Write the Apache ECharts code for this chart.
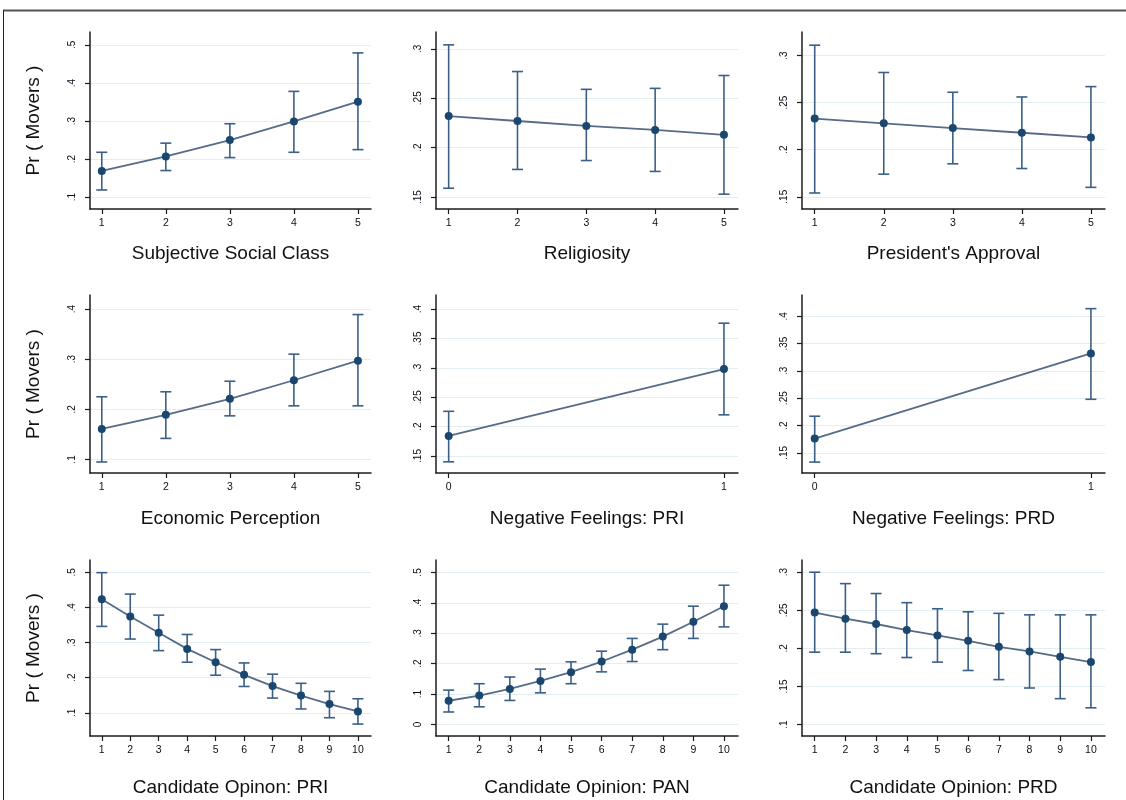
<!DOCTYPE html>
<html>
<head>
<meta charset="utf-8">
<script src="https://cdn.jsdelivr.net/npm/echarts@6/dist/echarts.min.js"></script>
<style>
  html, body { margin: 0; padding: 0; background: #fff; }
  #chart { width: 1126px; height: 800px; }
</style>
</head>
<body>
<div id="chart"></div>
<script>
// Predicted probability of being a mover, with 95% intervals, by respondent attribute.

// Subjective Social Class
const xSocialClass = [1, 2, 3, 4, 5];
const prSocialClass = [0.169, 0.207, 0.250, 0.299, 0.351];
const loSocialClass = [0.119, 0.170, 0.204, 0.218, 0.225];
const hiSocialClass = [0.218, 0.242, 0.293, 0.378, 0.479];

// Religiosity
const xReligiosity = [1, 2, 3, 4, 5];
const prReligiosity = [0.232, 0.227, 0.222, 0.218, 0.213];
const loReligiosity = [0.159, 0.178, 0.187, 0.176, 0.153];
const hiReligiosity = [0.304, 0.277, 0.259, 0.260, 0.273];

// President's Approval
const xApproval = [1, 2, 3, 4, 5];
const prApproval = [0.233, 0.228, 0.223, 0.218, 0.213];
const loApproval = [0.154, 0.174, 0.185, 0.180, 0.160];
const hiApproval = [0.311, 0.282, 0.261, 0.256, 0.267];

// Economic Perception
const xEconomy = [1, 2, 3, 4, 5];
const prEconomy = [0.161, 0.189, 0.221, 0.258, 0.297];
const loEconomy = [0.095, 0.142, 0.187, 0.207, 0.207];
const hiEconomy = [0.225, 0.235, 0.256, 0.310, 0.389];

// Negative Feelings: PRI
const xNegPRI = [0, 1];
const prNegPRI = [0.184, 0.298];
const loNegPRI = [0.140, 0.220];
const hiNegPRI = [0.226, 0.376];

// Negative Feelings: PRD
const xNegPRD = [0, 1];
const prNegPRD = [0.176, 0.332];
const loNegPRD = [0.133, 0.248];
const hiNegPRD = [0.217, 0.414];

// Candidate Opinon: PRI
const xOpinionPRI = [1, 2, 3, 4, 5, 6, 7, 8, 9, 10];
const prOpinionPRI = [0.423, 0.374, 0.328, 0.282, 0.244, 0.208, 0.176, 0.149, 0.125, 0.104];
const loOpinionPRI = [0.346, 0.310, 0.277, 0.244, 0.207, 0.175, 0.142, 0.111, 0.086, 0.068];
const hiOpinionPRI = [0.499, 0.438, 0.378, 0.323, 0.280, 0.242, 0.210, 0.184, 0.161, 0.140];

// Candidate Opinion: PAN
const xOpinionPAN = [1, 2, 3, 4, 5, 6, 7, 8, 9, 10];
const prOpinionPAN = [0.078, 0.095, 0.117, 0.143, 0.172, 0.207, 0.246, 0.289, 0.338, 0.389];
const loOpinionPAN = [0.041, 0.058, 0.079, 0.104, 0.134, 0.173, 0.207, 0.246, 0.283, 0.321];
const hiOpinionPAN = [0.113, 0.134, 0.156, 0.182, 0.206, 0.241, 0.283, 0.330, 0.389, 0.458];

// Candidate Opinion: PRD
const xOpinionPRD = [1, 2, 3, 4, 5, 6, 7, 8, 9, 10];
const prOpinionPRD = [0.247, 0.239, 0.232, 0.224, 0.217, 0.210, 0.202, 0.196, 0.189, 0.182];
const loOpinionPRD = [0.195, 0.195, 0.193, 0.188, 0.182, 0.171, 0.159, 0.148, 0.134, 0.122];
const hiOpinionPRD = [0.300, 0.285, 0.272, 0.260, 0.252, 0.248, 0.246, 0.244, 0.244, 0.244];

// Y tick labels per panel
const yTicksSocialClass = [0.1, 0.2, 0.3, 0.4, 0.5];
const yTicksReligiosity = [0.15, 0.2, 0.25, 0.3];
const yTicksApproval = [0.15, 0.2, 0.25, 0.3];
const yTicksEconomy = [0.1, 0.2, 0.3, 0.4];
const yTicksNegPRI = [0.15, 0.2, 0.25, 0.3, 0.35, 0.4];
const yTicksNegPRD = [0.15, 0.2, 0.25, 0.3, 0.35, 0.4];
const yTicksOpinionPRI = [0.1, 0.2, 0.3, 0.4, 0.5];
const yTicksOpinionPAN = [0, 0.1, 0.2, 0.3, 0.4, 0.5];
const yTicksOpinionPRD = [0.1, 0.15, 0.2, 0.25, 0.3];

const yTitle = 'Pr ( Movers )';

const panels = [
  { title: 'Subjective Social Class', x: xSocialClass, pr: prSocialClass, lo: loSocialClass, hi: hiSocialClass, yTicks: yTicksSocialClass, yRange: [0.069, 0.534] },
  { title: 'Religiosity', x: xReligiosity, pr: prReligiosity, lo: loReligiosity, hi: hiReligiosity, yTicks: yTicksReligiosity, yRange: [0.138, 0.317] },
  { title: "President's Approval", x: xApproval, pr: prApproval, lo: loApproval, hi: hiApproval, yTicks: yTicksApproval, yRange: [0.137, 0.325] },
  { title: 'Economic Perception', x: xEconomy, pr: prEconomy, lo: loEconomy, hi: hiEconomy, yTicks: yTicksEconomy, yRange: [0.073, 0.428] },
  { title: 'Negative Feelings: PRI', x: xNegPRI, pr: prNegPRI, lo: loNegPRI, hi: hiNegPRI, yTicks: yTicksNegPRI, yRange: [0.121, 0.424] },
  { title: 'Negative Feelings: PRD', x: xNegPRD, pr: prNegPRD, lo: loNegPRD, hi: hiNegPRD, yTicks: yTicksNegPRD, yRange: [0.113, 0.439] },
  { title: 'Candidate Opinon: PRI', x: xOpinionPRI, pr: prOpinionPRI, lo: loOpinionPRI, hi: hiOpinionPRI, yTicks: yTicksOpinionPRI, yRange: [0.034, 0.535] },
  { title: 'Candidate Opinion: PAN', x: xOpinionPAN, pr: prOpinionPAN, lo: loOpinionPAN, hi: hiOpinionPAN, yTicks: yTicksOpinionPAN, yRange: [-0.038, 0.541] },
  { title: 'Candidate Opinion: PRD', x: xOpinionPRD, pr: prOpinionPRD, lo: loOpinionPRD, hi: hiOpinionPRD, yTicks: yTicksOpinionPRD, yRange: [0.085, 0.316] }
];

// Layout of the 3x3 panel grid
const colLeft = [90, 436, 802];
const colWidth = [281, 302, 303];
const rowTop = [32, 295, 560];
const rowHeight = [177, 178, 176];
const xNameGap = [35, 36, 42];

const FONT = "'Liberation Sans', Arial, Helvetica, sans-serif";
const NAVY = '#1a476f';
const BAR = '#3b5f86';
const LINE = '#566b85';
const AXIS = '#1c1c1c';
const GRIDLINE = '#e4edf1';

function stataNum(v) {
  if (Math.abs(v) < 1e-9) return '0';
  const s = String(parseFloat(v.toFixed(3)));
  return s.replace(/^0\./, '.').replace(/^-0\./, '-.');
}

const grid = [], xAxis = [], yAxis = [], series = [];

panels.forEach((p, i) => {
  const row = Math.floor(i / 3), col = i % 3;
  grid.push({ left: colLeft[col], top: rowTop[row], width: colWidth[col], height: rowHeight[row], containLabel: false });

  const xMin = p.x[0], xMax = p.x[p.x.length - 1];
  const span = xMax - xMin;
  xAxis.push({
    gridIndex: i, type: 'value',
    min: xMin - 0.046 * span, max: xMax + 0.051 * span,
    name: p.title, nameLocation: 'middle', nameGap: xNameGap[row],
    nameTextStyle: { fontFamily: FONT, fontSize: 19, color: '#111' },
    axisLine: { onZero: false, lineStyle: { color: AXIS, width: 1.5 } },
    axisTick: { length: 5, customValues: p.x, lineStyle: { color: AXIS, width: 1.2 } },
    axisLabel: { customValues: p.x, margin: 9, fontFamily: FONT, fontSize: 10.5, color: '#0d0d1a' },
    splitLine: { show: false }
  });

  yAxis.push({
    gridIndex: i, type: 'value',
    min: p.yRange[0], max: p.yRange[1],
    name: col === 0 ? yTitle : '', nameLocation: 'middle', nameGap: 47, nameRotate: 90,
    nameTextStyle: { fontFamily: FONT, fontSize: 19, color: '#111' },
    axisLine: { show: true, onZero: false, lineStyle: { color: AXIS, width: 1.5 } },
    axisTick: { show: true, length: 5, customValues: p.yTicks, lineStyle: { color: AXIS, width: 1.2 } },
    axisLabel: { customValues: p.yTicks, rotate: 90, margin: 13, fontFamily: FONT, fontSize: 10, color: '#0d0d1a', formatter: stataNum },
    splitLine: { show: true, lineStyle: { color: GRIDLINE, width: 1 } }
  });

  // 95% interval caps
  series.push({
    type: 'custom', xAxisIndex: i, yAxisIndex: i, z: 2,
    encode: { x: 0, y: [1, 2] },
    data: p.x.map((x, k) => [x, p.lo[k], p.hi[k]]),
    renderItem: (params, api) => {
      const x = api.value(0);
      const top = api.coord([x, api.value(2)]);
      const bot = api.coord([x, api.value(1)]);
      const w = 5.5;
      const st = { stroke: BAR, lineWidth: 1.6 };
      return {
        type: 'group',
        children: [
          { type: 'line', shape: { x1: top[0], y1: top[1], x2: bot[0], y2: bot[1] }, style: st },
          { type: 'line', shape: { x1: top[0] - w, y1: top[1], x2: top[0] + w, y2: top[1] }, style: st },
          { type: 'line', shape: { x1: bot[0] - w, y1: bot[1], x2: bot[0] + w, y2: bot[1] }, style: st }
        ]
      };
    }
  });

  // Point estimates joined by a line
  series.push({
    type: 'line', xAxisIndex: i, yAxisIndex: i, z: 3,
    data: p.x.map((x, k) => [x, p.pr[k]]),
    symbol: 'circle', symbolSize: 8,
    itemStyle: { color: NAVY },
    lineStyle: { color: LINE, width: 1.8 },
    animation: false
  });
});

const chart = echarts.init(document.getElementById('chart'), null, { renderer: 'canvas' });
chart.setOption({
  backgroundColor: '#ffffff',
  animation: false,
  grid, xAxis, yAxis, series,
  graphic: [
    { type: 'line', shape: { x1: 3, y1: 10.5, x2: 1126, y2: 10.5 }, style: { stroke: '#555', lineWidth: 2 } },
    { type: 'line', shape: { x1: 3.5, y1: 10, x2: 3.5, y2: 800 }, style: { stroke: '#222', lineWidth: 1 } }
  ]
});
</script>
</body>
</html>
